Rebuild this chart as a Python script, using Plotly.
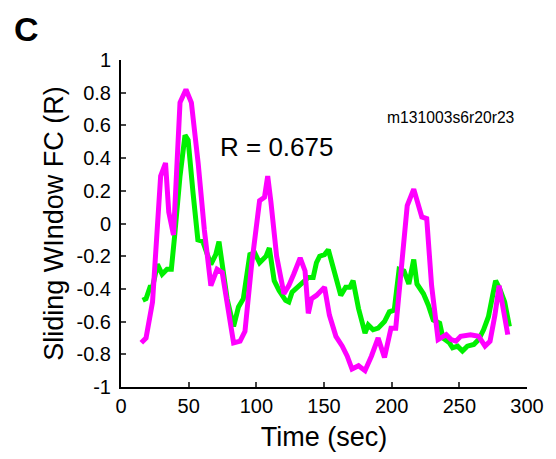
import plotly.graph_objects as go

t_green = [16, 18.5, 21.4, 23.3, 26.9, 30.4, 34, 37.2, 39.6, 43.6, 47.3, 49.6, 53.2, 56.8, 60.4, 62.8,
           66.4, 70, 72.4, 74.8, 78.4, 83.2, 86.8, 90.4, 95.2, 98.8, 102.4, 107.2, 109.6, 113.2, 116.8,
           121.6, 124, 126.4, 131.2, 134.8, 138.4, 142, 144.4, 146.8, 150.4, 153.2, 157.6, 162.4, 166,
           169.1, 171.5, 175.5, 180.3, 182.7, 186.3, 190, 194.7, 198.3, 201.9, 205.5, 209.1, 212.7,
           216.3, 218.7, 223.5, 227.1, 230.7, 235.5, 237.9, 242.7, 245, 248.7, 252.3, 255.9, 260.7,
           264.3, 267.9, 271.5, 274.6, 276.8, 279.9, 283.5, 287]
fc_green = [-0.47, -0.46, -0.39, -0.39, -0.25, -0.31, -0.28, -0.28, -0.08, 0.29, 0.54, 0.51, 0.19,
            -0.10, -0.11, -0.17, -0.25, -0.19, -0.11, -0.25, -0.46, -0.63, -0.51, -0.46, -0.19, -0.18,
            -0.24, -0.20, -0.15, -0.35, -0.41, -0.47, -0.48, -0.42, -0.38, -0.35, -0.33, -0.33, -0.24,
            -0.20, -0.19, -0.16, -0.30, -0.44, -0.39, -0.39, -0.35, -0.52, -0.67, -0.62, -0.65, -0.64,
            -0.60, -0.54, -0.53, -0.28, -0.29, -0.37, -0.22, -0.37, -0.43, -0.50, -0.59, -0.61, -0.70,
            -0.73, -0.76, -0.75, -0.78, -0.75, -0.74, -0.71, -0.65, -0.57, -0.44, -0.35, -0.40, -0.48,
            -0.63]

t_magenta = [15, 18.5, 23.3, 29.3, 32.9, 35.3, 38.8, 43.6, 48, 52, 57, 61.6, 66.4, 71, 74.8, 78.4,
             83.2, 88, 91.6, 96.4, 102.4, 106, 108.4, 110.8, 115, 120.4, 124, 127.6, 132.4, 136, 138.4,
             140.8, 144.4, 150.4, 154, 158.8, 163.5, 167.1, 170.7, 175.5, 180.3, 185.1, 190, 194.7,
             199.5, 203, 206.7, 211.5, 216.3, 221, 222.3, 225.9, 229.5, 234.3, 240.3, 243.9, 247.5,
             251, 258.3, 264.3, 269, 272.7, 276.3, 279.4, 282.2, 285.8]
fc_magenta = [-0.73, -0.70, -0.48, 0.29, 0.37, 0.07, -0.07, 0.74, 0.82, 0.74, 0.37, -0.04, -0.38,
              -0.28, -0.30, -0.48, -0.73, -0.72, -0.66, -0.26, 0.14, 0.16, 0.29, 0.13, -0.20, -0.43,
              -0.38, -0.31, -0.21, -0.29, -0.55, -0.46, -0.44, -0.39, -0.56, -0.69, -0.75, -0.81,
              -0.89, -0.87, -0.90, -0.81, -0.70, -0.82, -0.64, -0.64, -0.28, 0.11, 0.21, 0.09, 0.04,
              0.03, -0.38, -0.71, -0.68, -0.71, -0.72, -0.69, -0.68, -0.69, -0.75, -0.72, -0.56,
              -0.38, -0.52, -0.68]

x_ticks = [0, 50, 100, 150, 200, 250, 300]
y_ticks = [-1, -0.8, -0.6, -0.4, -0.2, 0, 0.2, 0.4, 0.6, 0.8, 1]
y_tick_text = ["-1", "-0.8", "-0.6", "-0.4", "-0.2", "0", "0.2", "0.4", "0.6", "0.8", "1"]

FONT = "Liberation Sans, Arial, sans-serif"

fig = go.Figure()
fig.add_trace(go.Scatter(x=t_green, y=fc_green, mode="lines",
                         line=dict(color="#00f000", width=5), showlegend=False))
fig.add_trace(go.Scatter(x=t_magenta, y=fc_magenta, mode="lines",
                         line=dict(color="#ff00ff", width=5), showlegend=False))

fig.update_layout(
    width=556, height=459,
    margin=dict(l=121, r=18, t=60, b=71),
    paper_bgcolor="white", plot_bgcolor="white",
    font=dict(family=FONT, color="black"),
    xaxis=dict(range=[0, 300], tickvals=x_ticks, ticks="inside", ticklen=5, tickwidth=2,
               showline=True, linecolor="black", linewidth=2, showgrid=False, zeroline=False,
               tickfont=dict(size=20, family=FONT),
               title=dict(text="Time (sec)", font=dict(size=27, family=FONT), standoff=11)),
    yaxis=dict(range=[-1, 1], tickvals=y_ticks, ticktext=y_tick_text, ticks="inside", ticklen=5,
               tickwidth=2, showline=True, linecolor="black", linewidth=2, showgrid=False,
               zeroline=False, tickfont=dict(size=20, family=FONT), ticklabelstandoff=4,
               title=dict(text="Sliding WIndow FC (R)", font=dict(size=27, family=FONT), standoff=5)),
    annotations=[
        dict(text="<b>C</b>", x=(24 - 121) / 417, y=(388 - 29) / 328, xref="paper", yref="paper",
             xanchor="center", yanchor="middle", showarrow=False, font=dict(size=34, family=FONT)),
        dict(text="R = 0.675", x=(221 - 121) / 417, y=(388 - 147) / 328, xref="paper", yref="paper",
             xanchor="left", yanchor="middle", showarrow=False, font=dict(size=26, family=FONT)),
        dict(text="m131003s6r20r23", x=(392 - 121) / 417, y=(388 - 118) / 328, xref="paper",
             yref="paper", xanchor="left", yanchor="middle", showarrow=False,
             font=dict(size=15.7, family=FONT)),
    ],
)

fig.write_html("out.html")
